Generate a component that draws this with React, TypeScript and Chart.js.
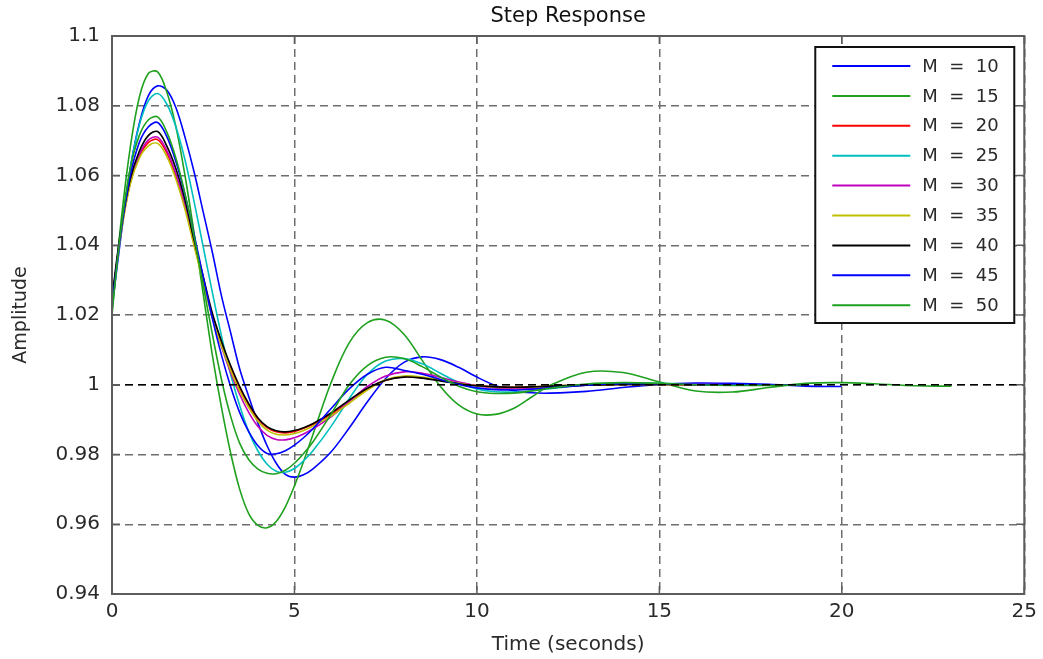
import React, { useEffect, useRef } from 'react';
import { Chart, registerables } from 'chart.js';

Chart.register(...registerables);

// ---------- data ----------
const TIME = [
  0, 0.25, 0.5, 0.75, 1, 1.25, 1.5, 1.75, 2, 2.25, 2.5, 2.75, 3, 3.25, 3.5, 3.75, 4, 4.25, 4.5, 4.75, 5, 5.25, 5.5,
  6, 6.5, 7, 7.5, 8, 8.5, 9, 9.5, 10, 10.5, 11, 11.5, 12,
  13, 14, 15, 16, 17, 18, 19, 20, 21, 22, 23, 24, 25,
];

const M10 = [
  1.022, 1.043, 1.062, 1.075, 1.083, 1.0857, 1.0845, 1.0795, 1.071, 1.061, 1.0495, 1.038, 1.0255, 1.015, 1.0045, 0.9965, 0.989, 0.9825, 0.9775, 0.9743, 0.9735, 0.9742, 0.9758,
  0.9807, 0.9876, 0.9951, 1.0018, 1.0064, 1.008, 1.0072, 1.005, 1.0022, 0.9998, 0.9983, 0.9977, 0.9976,
  0.9981, 0.9992, 1.0001, 1.0005, 1.0004, 1.0001, 0.9996, 0.9995, null, null, null, null, null,
];
const M15 = [
  1.02, 1.047, 1.068, 1.0825, 1.0893, 1.0897, 1.084, 1.074, 1.06, 1.0435, 1.026, 1.0085, 0.9935, 0.9805, 0.97, 0.963, 0.9597, 0.959, 0.9608, 0.965, 0.971, 0.978, 0.9855,
  1.0005, 1.012, 1.0178, 1.0185, 1.0145, 1.007, 0.9995, 0.9942, 0.9916, 0.9915, 0.9932, 0.9965, 0.9998,
  1.0036, 1.0035, 1.0008, 0.9982, 0.9979, 0.9992, 1.0004, 1.0006, 1.0002, 0.9997, 0.9996, null, null,
];
const M20 = [
  1.024, 1.044, 1.058, 1.0655, 1.0695, 1.0703, 1.0665, 1.06, 1.0512, 1.0405, 1.03, 1.02, 1.012, 1.005, 0.999, 0.9942, 0.9902, 0.9877, 0.9865, 0.9862, 0.9866, 0.9875, 0.9886,
  0.9915, 0.9953, 0.9988, 1.0013, 1.0023, 1.002, 1.0012, 1.0004, 0.9998, 0.9994, 0.9993, 0.9994, 0.9996,
  0.9999, 1.0001, 1.0001, 1.0, 1.0, null, null, null, null, null, null, null, null,
];
const M25 = [
  1.022, 1.044, 1.062, 1.0745, 1.0815, 1.0835, 1.0805, 1.074, 1.0645, 1.0525, 1.0395, 1.0265, 1.014, 1.003, 0.994, 0.9865, 0.981, 0.9772, 0.9752, 0.9749, 0.976, 0.9782, 0.981,
  0.988, 0.996, 1.003, 1.0068, 1.0075, 1.006, 1.0033, 1.0006, 0.9988, 0.998, 0.9979, 0.9983, 0.9989,
  1.0, 1.0005, 1.0004, 1.0001, 0.9999, 1.0, null, null, null, null, null, null, null,
];
const M30 = [
  1.024, 1.044, 1.058, 1.066, 1.0702, 1.071, 1.0672, 1.0605, 1.0515, 1.0408, 1.03, 1.0196, 1.011, 1.0035, 0.9972, 0.992, 0.988, 0.9855, 0.9843, 0.9842, 0.9848, 0.9859, 0.9873,
  0.9908, 0.9952, 0.9995, 1.0025, 1.0037, 1.0033, 1.0021, 1.0008, 0.9997, 0.9991, 0.9989, 0.999, 0.9993,
  0.9999, 1.0002, 1.0002, 1.0001, 1.0, null, null, null, null, null, null, null, null,
];
const M35 = [
  1.024, 1.0435, 1.0575, 1.065, 1.0685, 1.0692, 1.0655, 1.059, 1.0503, 1.0398, 1.0293, 1.0193, 1.0112, 1.0042, 0.9982, 0.9934, 0.9895, 0.987, 0.9858, 0.9856, 0.986, 0.9869, 0.9881,
  0.991, 0.9947, 0.9985, 1.0014, 1.0025, 1.0022, 1.0013, 1.0004, 0.9997, 0.9993, 0.9992, 0.9993, 0.9996,
  0.9999, 1.0001, 1.0001, 1.0, null, null, null, null, null, null, null, null, null,
];
const M40 = [
  1.025, 1.045, 1.059, 1.067, 1.0715, 1.0726, 1.0685, 1.062, 1.053, 1.0415, 1.031, 1.0205, 1.0125, 1.0055, 0.9995, 0.9945, 0.9905, 0.988, 0.9868, 0.9865, 0.9869, 0.9877, 0.9888,
  0.9919, 0.9956, 0.999, 1.0013, 1.0022, 1.0019, 1.0011, 1.0003, 0.9997, 0.9994, 0.9993, 0.9994, 0.9996,
  0.9999, 1.0001, 1.0001, 1.0, null, null, null, null, null, null, null, null, null,
];
const M45 = [
  1.023, 1.044, 1.06, 1.0695, 1.074, 1.0752, 1.0712, 1.064, 1.0545, 1.043, 1.031, 1.019, 1.0085, 0.9995, 0.992, 0.9865, 0.9825, 0.9803, 0.9802, 0.9811, 0.9827, 0.9848, 0.9873,
  0.9931, 0.9988, 1.003, 1.005, 1.0041, 1.003, 1.0015, 1.0001, 0.9991, 0.9986, 0.9985, 0.9987, 0.9991,
  0.9999, 1.0003, 1.0003, 1.0001, 0.9999, 0.9999, 1.0, null, null, null, null, null, null,
];
const M50 = [
  1.021, 1.045, 1.062, 1.0715, 1.076, 1.0768, 1.0725, 1.065, 1.0548, 1.0425, 1.0285, 1.0145, 1.0015, 0.991, 0.9832, 0.9785, 0.9758, 0.9746, 0.9745, 0.9755, 0.9775, 0.9803, 0.9835,
  0.9915, 1.0, 1.0055, 1.0079, 1.0075, 1.0052, 1.0022, 0.9996, 0.998, 0.9975, 0.9976, 0.9982, 0.999,
  1.0002, 1.0006, 1.0004, 1.0, 0.9998, 0.9998, 1.0, null, null, null, null, null, null,
];

const SERIES = [M10, M15, M20, M25, M30, M35, M40, M45, M50];
const SERIES_LABELS = ['M  =  10', 'M  =  15', 'M  =  20', 'M  =  25', 'M  =  30', 'M  =  35', 'M  =  40', 'M  =  45', 'M  =  50'];
const SERIES_COLORS = ['#0000FF', '#1FA01F', '#FF0000', '#00BFBF', '#BF00BF', '#BFBF00', '#000000', '#0000FF', '#1FA01F'];

const STEADY_TIME = [0, 25];
const STEADY_VALUE = [1, 1];

const X_TICK_VALUES = [0, 5, 10, 15, 20, 25];
const X_TICK_LABELS = ['0', '5', '10', '15', '20', '25'];
const Y_TICK_VALUES = [0.94, 0.96, 0.98, 1.0, 1.02, 1.04, 1.06, 1.08, 1.1];
const Y_TICK_LABELS = ['0.94', '0.96', '0.98', '1', '1.02', '1.04', '1.06', '1.08', '1.1'];

const TITLE = 'Step Response';
const X_TITLE = 'Time (seconds)';
const Y_TITLE = 'Amplitude';

const FONT = 'DejaVu Sans';
const TEXT_COLOR = '#2a2a2a';

// ---------- plugin: MATLAB-like frame, title and legend ----------
const matlabPlugin = {
  id: 'matlabDecor',
  afterDatasetsDraw(chart: any) {
    const { ctx, chartArea, scales } = chart;
    const { left, right, top, bottom } = chartArea;
    ctx.save();
    ctx.strokeStyle = '#5c5c5c';
    ctx.lineWidth = 2;
    ctx.setLineDash([]);
    ctx.strokeRect(left, top, right - left, bottom - top);
    ctx.lineWidth = 1.5;
    ctx.beginPath();
    const tl = 8;
    X_TICK_VALUES.forEach((v) => {
      const x = scales.x.getPixelForValue(v);
      ctx.moveTo(x, bottom);
      ctx.lineTo(x, bottom - tl);
      ctx.moveTo(x, top);
      ctx.lineTo(x, top + tl);
    });
    Y_TICK_VALUES.forEach((v) => {
      const y = scales.y.getPixelForValue(v);
      ctx.moveTo(left, y);
      ctx.lineTo(left + tl, y);
      ctx.moveTo(right, y);
      ctx.lineTo(right - tl, y);
    });
    ctx.stroke();
    ctx.restore();
  },
  afterDraw(chart: any) {
    const { ctx, chartArea } = chart;
    const { left, right, top } = chartArea;
    ctx.save();
    // title
    ctx.fillStyle = '#111';
    ctx.font = `21px "${FONT}"`;
    ctx.textAlign = 'center';
    ctx.textBaseline = 'middle';
    ctx.fillText(TITLE, (left + right) / 2, 17);

    // legend box
    const bx = right - 209;
    const by = top + 11;
    const bw = 199;
    const bh = 276;
    ctx.fillStyle = '#ffffff';
    ctx.fillRect(bx, by, bw, bh);
    ctx.strokeStyle = '#111';
    ctx.lineWidth = 2;
    ctx.strokeRect(bx, by, bw, bh);
    ctx.font = `18px "${FONT}"`;
    ctx.textAlign = 'left';
    ctx.textBaseline = 'middle';
    SERIES_LABELS.forEach((lab, i) => {
      const y = by + 19 + i * 29.9;
      ctx.strokeStyle = SERIES_COLORS[i];
      ctx.lineWidth = 2;
      ctx.beginPath();
      ctx.moveTo(bx + 17, y);
      ctx.lineTo(bx + 95, y);
      ctx.stroke();
      ctx.fillStyle = TEXT_COLOR;
      ctx.fillText(lab, bx + 107, y + 1);
    });
    ctx.restore();
  },
};

export default function App() {
  const canvasRef = useRef<HTMLCanvasElement | null>(null);

  useEffect(() => {
    if (!canvasRef.current) return;
    const datasets: any[] = SERIES.map((vals, i) => ({
      label: SERIES_LABELS[i],
      data: TIME.map((t, k) => ({ x: t, y: vals[k] })),
      borderColor: SERIES_COLORS[i],
      backgroundColor: SERIES_COLORS[i],
      borderWidth: 1.6,
      pointRadius: 0,
      tension: 0.35,
      spanGaps: false,
      order: SERIES.length - i,
    }));
    datasets.push({
      label: 'steady',
      data: STEADY_TIME.map((t, k) => ({ x: t, y: STEADY_VALUE[k] })),
      borderColor: '#000000',
      borderWidth: 1.6,
      borderDash: [8, 5],
      pointRadius: 0,
      order: -1,
    });

    const chart = new Chart(canvasRef.current, {
      type: 'line',
      data: { datasets },
      plugins: [matlabPlugin],
      options: {
        animation: false,
        responsive: false,
        maintainAspectRatio: false,
        layout: { padding: { top: 36, right: 16, bottom: 0, left: 0 } },
        plugins: {
          legend: { display: false },
          tooltip: { enabled: false },
          title: { display: false },
        },
        scales: {
          x: {
            type: 'linear',
            min: 0,
            max: 25,
            afterBuildTicks: (scale: any) => {
              scale.ticks = X_TICK_VALUES.map((v) => ({ value: v }));
            },
            afterFit: (scale: any) => {
              scale.height = 65;
            },
            ticks: {
              autoSkip: false,
              maxRotation: 0,
              padding: 6,
              color: TEXT_COLOR,
              font: { family: FONT, size: 20 },
              callback: (_v: any, i: number) => X_TICK_LABELS[i],
            },
            grid: {
              color: '#6e6e6e',
              lineWidth: 1.5,
              drawTicks: false,
            },
            border: { display: false, dash: [8, 5] },
            title: {
              display: true,
              text: X_TITLE,
              color: TEXT_COLOR,
              font: { family: FONT, size: 20 },
              padding: { top: 2, bottom: 2 },
            },
          },
          y: {
            type: 'linear',
            min: 0.94,
            max: 1.1,
            afterBuildTicks: (scale: any) => {
              scale.ticks = Y_TICK_VALUES.map((v) => ({ value: v }));
            },
            afterFit: (scale: any) => {
              scale.width = 112;
            },
            ticks: {
              autoSkip: false,
              padding: 12,
              color: TEXT_COLOR,
              font: { family: FONT, size: 20 },
              callback: (_v: any, i: number) => Y_TICK_LABELS[i],
            },
            grid: {
              color: '#6e6e6e',
              lineWidth: 1.5,
              drawTicks: false,
            },
            border: { display: false, dash: [8, 5] },
            title: {
              display: true,
              text: Y_TITLE,
              color: TEXT_COLOR,
              font: { family: FONT, size: 19 },
              padding: { top: 10, bottom: 0 },
            },
          },
        },
      } as any,
    });
    return () => chart.destroy();
  }, []);

  return (
    <div style={{ position: 'fixed', left: 0, top: 0, width: 1043, height: 659, background: '#ffffff' }}>
      <canvas ref={canvasRef} width={1043} height={659} style={{ display: 'block' }} />
    </div>
  );
}
